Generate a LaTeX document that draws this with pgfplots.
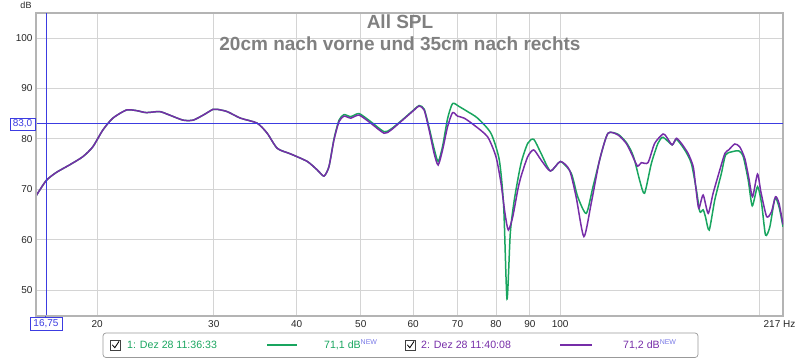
\documentclass[border=0pt]{standalone}
\usepackage{pgfplots}
\pgfplotsset{compat=1.18}
\usepackage{fontspec}
\setmainfont{Liberation Sans}
\definecolor{cgreen}{RGB}{25,165,95}
\definecolor{cpurple}{RGB}{118,45,168}
\definecolor{cursorc}{RGB}{60,60,225}
\definecolor{gridc}{RGB}{212,212,212}
\definecolor{titlec}{RGB}{128,128,128}
\definecolor{newc}{RGB}{120,120,230}
\definecolor{framec}{RGB}{180,180,180}
\pgfplotstableread{
f v
16.17 68.65
16.75 71.7
17.34 73.3
18.16 74.8
19.03 76.45
19.70 78.4
20.40 81.75
21.12 84.1
22.13 85.7
22.91 85.6
23.72 85.2
24.85 85.4
25.73 84.7
26.96 83.7
27.92 83.7
28.91 84.7
29.92 85.85
30.35 85.85
31.42 85.4
32.91 84.1
34.89 83.1
36.12 81.1
37.41 78.1
39.18 77.0
41.52 75.5
43.00 73.8
44.00 72.6
44.77 74.5
45.56 79.8
46.36 83.4
47.17 84.5
48.29 84.1
49.71 84.7
51.76 83.1
54.22 81.1
55.50 81.7
57.47 83.4
60.19 85.7
61.25 86.5
62.33 85.7
63.42 81.75
64.53 77.1
65.44 74.8
66.45 77.8
67.62 82.4
68.81 85.2
70.01 84.5
71.64 84.1
74.18 82.7
77.71 80.4
80.00 76.45
81.41 71.2
82.55 65.2
83.51 61.9
84.80 64.5
86.28 69.8
87.27 72.5
89.34 76.45
91.23 77.8
93.58 75.8
96.67 73.6
100.1 75.5
103.3 73.8
105.7 68.5
108.6 60.6
111.4 67.2
114.7 75.8
118.1 81.1
122.3 80.75
125.8 79.1
128.1 77.1
130.8 74.6
132.6 75.26
135.7 75.26
138.9 79.1
143.0 80.95
144.7 80.4
147.6 78.8
149.8 80.1
152.4 79.1
156.0 77.1
158.8 74.5
160.2 70.5
161.9 66.2
164.4 68.85
167.3 65.2
170.2 69.2
174.2 73.8
177.3 77.1
179.7 77.8
183.5 78.97
186.7 78.4
190.0 76.1
192.7 72.2
195.2 68.5
198.6 73.0
200.9 69.5
205.0 64.55
208.5 65.55
211.4 68.5
214.0 67.2
217.0 63.0
}\purpledata
\pgfplotstableread{
f v
16.17 68.65
16.75 71.7
17.34 73.3
18.16 74.8
19.03 76.45
19.70 78.4
20.40 81.75
21.12 84.1
22.13 85.7
22.91 85.6
23.72 85.2
24.85 85.4
25.73 84.7
26.96 83.7
27.92 83.7
28.91 84.7
29.92 85.85
30.35 85.85
31.42 85.4
32.91 84.1
34.89 83.1
36.12 81.1
37.41 78.1
39.18 77.0
41.52 75.5
43.00 73.8
44.00 72.6
44.77 74.5
45.56 80.0
46.36 83.7
47.17 84.8
48.29 84.4
49.71 85.0
51.76 83.4
54.22 81.4
55.50 81.9
57.47 83.5
60.19 85.8
61.25 86.6
62.33 85.9
63.42 82.2
64.53 78.0
65.44 75.5
66.45 78.5
67.62 84.0
68.81 87.0
70.40 86.4
72.49 85.4
75.05 84.1
78.62 81.1
80.93 75.8
82.18 66.5
83.13 48.2
84.09 61.3
85.27 67.9
87.27 75.1
89.34 79.1
91.23 79.9
93.58 77.1
96.67 73.6
100.1 75.5
103.9 73.2
106.3 68.5
109.5 65.2
112.1 70.5
115.4 77.1
118.1 81.1
122.3 80.9
125.8 79.3
128.1 77.5
129.5 75.8
132.0 71.5
134.1 69.2
137.3 75.1
140.5 79.1
143.0 80.3
147.6 78.8
149.8 79.9
154.2 77.8
157.8 75.1
160.6 69.8
162.5 65.55
164.4 65.9
165.7 64.55
167.9 61.9
171.2 67.9
175.2 73.2
177.7 76.8
181.4 77.4
186.1 77.6
189.0 76.45
192.3 71.8
195.0 66.7
198.6 70.5
201.4 67.2
204.2 60.9
207.3 62.55
211.0 68.2
214.0 66.5
217.0 62.55
}\greendata
\begin{document}
\begin{tikzpicture}[x=1pt,y=1pt]
\path[use as bounding box] (0,0) rectangle (800,360);
\begin{axis}[at={(36pt,44pt)}, anchor=south west, width=747pt, height=303pt, scale only axis,
 xmode=log, xmin=16.17, xmax=217, ymin=44.84, ymax=104.96,
 xtick={20,30,40,50,60,70,80,90,100,200},
 xticklabels={20,30,40,50,60,70,80,90,100,{}},
 ytick={50,60,70,80,90,100},
 minor xtick={},
 grid=major, major grid style={gridc, line width=0.8pt},
 major tick length=0pt,
 axis line style={draw=framec, line width=1.2pt},
 tick label style={font=\fontsize{10}{12}\selectfont, text=black!85},
 /pgf/number format/assume math mode=true,
 xticklabel style={yshift=-0.5pt},
 clip=true,
]
\addplot[cgreen, line width=1.5pt, smooth, tension=0.4] table[x=f,y=v] {\greendata};
\addplot[cpurple, line width=1.5pt, smooth, tension=0.4] table[x=f,y=v] {\purpledata};
\draw[cursorc, line width=1pt] (axis cs:16.17,83) -- (axis cs:217,83);
\draw[cursorc, line width=1pt] (axis cs:16.75,44.84) -- (axis cs:16.75,104.96);
\end{axis}
% thicker left and bottom frame
\draw[framec, line width=2.2pt] (36,44) -- (36,347);
\draw[framec, line width=2.2pt] (36,44) -- (783,44);
% cursor extensions and boxed labels
\draw[cursorc, line width=1pt] (35,236) -- (36,236);
\draw[cursorc, line width=1pt] (45,44) -- (45,43);
\node[draw=cursorc, text=cursorc, font=\fontsize{10}{12}\selectfont, inner sep=1.2pt, minimum width=25pt, minimum height=12pt, fill=white] at (22.5,236) {83,0};
\node[draw=cursorc, text=cursorc, font=\fontsize{10}{12}\selectfont, inner sep=1.2pt, minimum width=32pt, minimum height=13pt, fill=white] at (46,36.5) {16,75};
\node[font=\fontsize{9}{10}\selectfont, text=black!85] at (26,355) {dB};
\node[font=\fontsize{10}{12}\selectfont, text=black!85] at (779.5,36) {217 Hz};
% titles
\node[anchor=base, font=\bfseries\fontsize{19}{21}\selectfont, text=titlec] at (400,332) {All SPL};
\node[anchor=base, font=\bfseries\fontsize{19}{21}\selectfont, text=titlec] at (400,310) {20cm nach vorne und 35cm nach rechts};
% legend
\draw[black!40, line width=0.7pt, rounded corners=3pt] (103,2.5) rectangle (698,27);
\draw[black!75, line width=0.6pt] (110.5,10) rectangle (120.5,20);
\draw[black, line width=0.8pt] (112.3,15.2) -- (114.8,12.3) -- (119,18.6);
\node[anchor=west, inner sep=0pt, font=\fontsize{10.6}{12}\selectfont, text=cgreen] at (127,15) {1: Dez 28 11:36:33};
\draw[cgreen, line width=2pt] (267,15) -- (297,15);
\node[anchor=west, inner sep=0pt, font=\fontsize{10.6}{12}\selectfont, text=cgreen] at (324,15) {71,1 dB\raisebox{4pt}{\fontsize{7}{7}\selectfont\color{newc}NEW}};
\draw[black!75, line width=0.6pt] (405.5,10) rectangle (415.5,20);
\draw[black, line width=0.8pt] (407.3,15.2) -- (409.8,12.3) -- (414,18.6);
\node[anchor=west, inner sep=0pt, font=\fontsize{10.6}{12}\selectfont, text=cpurple] at (421,15) {2: Dez 28 11:40:08};
\draw[cpurple, line width=2pt] (560,15) -- (592,15);
\node[anchor=west, inner sep=0pt, font=\fontsize{10.6}{12}\selectfont, text=cpurple] at (623,15) {71,2 dB\raisebox{4pt}{\fontsize{7}{7}\selectfont\color{newc}NEW}};
\end{tikzpicture}
\end{document}
